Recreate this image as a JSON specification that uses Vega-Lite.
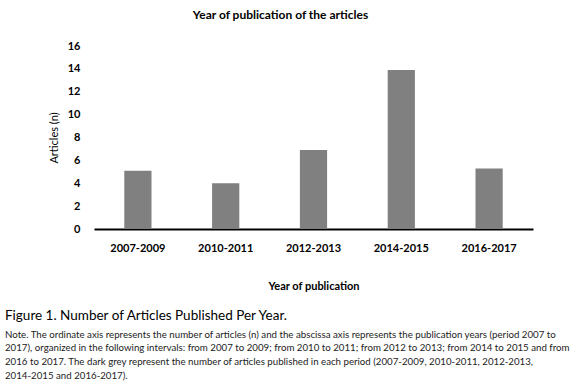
{
  "$schema": "https://vega.github.io/schema/vega-lite/v6.json",
  "background": "white",
  "padding": {"left": 5, "right": 5, "top": 9, "bottom": 3},
  "config": {"font": "Lato", "view": {"stroke": null}},
  "title": {
    "text": "Figure 1. Number of Articles Published Per Year.",
    "subtitle": [
      "Note. The ordinate axis represents the number of articles (n) and the abscissa axis represents the publication years (period 2007 to",
      "2017), organized in the following intervals: from 2007 to 2009; from 2010 to 2011; from 2012 to 2013; from 2014 to 2015 and from",
      "2016 to 2017. The dark grey represent the number of articles published in each period (2007-2009, 2010-2011, 2012-2013,",
      "2014-2015 and 2016-2017)."
    ],
    "orient": "bottom",
    "anchor": "start",
    "frame": "group",
    "dx": -89,
    "offset": 18,
    "font": "Lato",
    "fontSize": 13.5,
    "fontWeight": "normal",
    "color": "#000000",
    "subtitleFont": "Lato",
    "subtitleFontSize": 9.7,
    "subtitleColor": "#222222",
    "subtitleLineHeight": 13.7,
    "subtitlePadding": 7
  },
  "vconcat": [
    {
      "width": 439,
      "height": 183,
      "title": {
        "text": "Year of publication of the articles",
        "anchor": "middle",
        "frame": "group",
        "dx": -33,
        "fontSize": 12,
        "fontWeight": "bold",
        "font": "Lato",
        "color": "#000000",
        "offset": 18
      },
      "data": {
        "values": [
          {"period": "2007-2009", "articles": 5.1},
          {"period": "2010-2011", "articles": 4.0},
          {"period": "2012-2013", "articles": 6.9},
          {"period": "2014-2015", "articles": 13.9},
          {"period": "2016-2017", "articles": 5.3}
        ]
      },
      "mark": {"type": "bar", "color": "#808080"},
      "encoding": {
        "x": {
          "field": "period",
          "type": "nominal",
          "sort": null,
          "scale": {"paddingInner": 0.69, "paddingOuter": 0.345},
          "axis": {
            "title": "Year of publication",
            "labelAngle": 0,
            "ticks": false,
            "domainColor": "#000000",
            "domainWidth": 2,
            "labelPadding": 13,
            "labelFontSize": 11,
            "labelFontWeight": "bold",
            "labelColor": "#000000",
            "titleFontSize": 11,
            "titleFontWeight": "bold",
            "titleColor": "#000000",
            "titlePadding": 27
          }
        },
        "y": {
          "field": "articles",
          "type": "quantitative",
          "scale": {"domain": [0, 16], "nice": false},
          "axis": {
            "title": "Articles (n)",
            "values": [0, 2, 4, 6, 8, 10, 12, 14, 16],
            "grid": false,
            "domain": false,
            "ticks": false,
            "labelPadding": 14,
            "labelFontSize": 11,
            "labelFontWeight": "bold",
            "labelColor": "#000000",
            "titleFontSize": 11,
            "titleFontWeight": "normal",
            "titleColor": "#000000",
            "titlePadding": 8
          }
        }
      }
    }
  ]
}
